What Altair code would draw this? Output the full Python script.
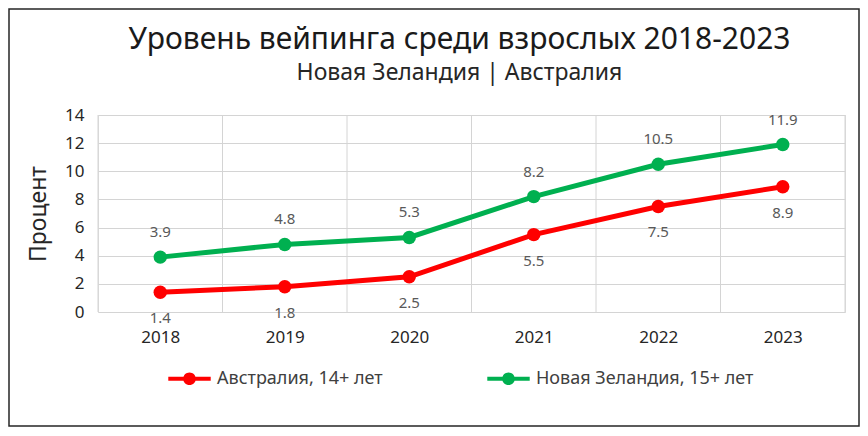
import pandas as pd
import altair as alt

years = [2018, 2019, 2020, 2021, 2022, 2023]
australia = [1.4, 1.8, 2.5, 5.5, 7.5, 8.9]
new_zealand = [3.9, 4.8, 5.3, 8.2, 10.5, 11.9]
series_names = ["Австралия, 14+ лет", "Новая Зеландия, 15+ лет"]
series_colors = ["#ff0000", "#00b050"]
cell_edges = [2017.5, 2018.5, 2019.5, 2020.5, 2021.5, 2022.5, 2023.5]
y_ticks = [0, 2, 4, 6, 8, 10, 12, 14]

df = pd.DataFrame({
    "year": years * 2,
    "value": australia + new_zealand,
    "series": [series_names[0]] * len(years) + [series_names[1]] * len(years),
})
df["label"] = df["value"].map(lambda v: f"{v:.1f}")
edges = pd.DataFrame({"edge": cell_edges})

font = "Noto Sans"
# line + dot legend symbol
legend_path = ("M-1,-0.1 L1,-0.1 L1,0.1 L-1,0.1 Z "
               "M0.3,0 A0.3,0.3 0 1,1 -0.3,0 A0.3,0.3 0 1,1 0.3,0 Z")

x_scale = alt.Scale(domain=[2017.5, 2023.5], nice=False, zero=False)
y_scale = alt.Scale(domain=[0, 14], nice=False)
color_scale = alt.Scale(domain=series_names, range=series_colors)

vgrid = alt.Chart(edges).mark_rule(color="#d4d4d4", strokeWidth=1).encode(
    x=alt.X("edge:Q", scale=x_scale)
)

base = alt.Chart(df).encode(
    x=alt.X("year:Q", scale=x_scale, title=None,
            axis=alt.Axis(values=years, format="d", grid=False, ticks=False,
                          domain=False, labelFontSize=17, labelFont=font,
                          labelColor="#262626", labelPadding=17)),
    y=alt.Y("value:Q", scale=y_scale, title="Процент",
            axis=alt.Axis(values=y_ticks, grid=True, gridColor="#d4d4d4",
                          ticks=False, domain=False, labelFontSize=17,
                          labelFont=font, labelColor="#262626",
                          labelPadding=14, titleFontSize=23,
                          titleFont=font, titleFontWeight="normal",
                          titleColor="#262626", titlePadding=14)),
)

legend = alt.Legend(orient="none", direction="horizontal",
                    legendX=70, legendY=242, padding=0,
                    symbolType=legend_path, symbolSize=1800,
                    symbolStrokeWidth=0, symbolOpacity=1,
                    labelFont=font, labelFontSize=18,
                    labelColor="#404040", labelOffset=6,
                    columnPadding=104, labelLimit=300)

lines = base.mark_line(strokeWidth=5).encode(
    color=alt.Color("series:N", scale=color_scale, title=None, legend=legend)
)

dots = base.mark_circle(size=180, opacity=1).encode(
    color=alt.Color("series:N", scale=color_scale, title=None, legend=legend)
)

labels_nz = base.transform_filter(
    alt.datum.series == series_names[1]
).mark_text(dy=-25, fontSize=15, font=font, color="#595959").encode(
    text="label:N"
)

labels_au = base.transform_filter(
    alt.datum.series == series_names[0]
).mark_text(dy=26, fontSize=15, font=font, color="#595959").encode(
    text="label:N"
)

# outer frame round the whole picture
border = alt.Chart(pd.DataFrame({"k": [0]})).mark_rect(
    fill=None, stroke="#262626", strokeWidth=1.5
).encode(
    x=alt.value(-89), x2=alt.value(761),
    y=alt.value(-106), y2=alt.value(311)
)

chart = alt.layer(
    vgrid, lines, dots, labels_nz, labels_au, border
).properties(
    width=747,
    height=197,
    autosize=alt.AutoSizeParams(type="none"),
    padding={"left": 90, "top": 107, "right": 15, "bottom": 116},
    title=alt.TitleParams(
        text="Уровень вейпинга среди взрослых 2018-2023",
        subtitle="Новая Зеландия | Австралия",
        font=font, fontSize=30, fontWeight="normal", color="#1a1a1a",
        subtitleFont=font, subtitleFontSize=23, subtitleColor="#262626",
        subtitlePadding=7, offset=30, anchor="middle", dx=-12, dy=107,
        frame="group",
    ),
).configure_view(
    fill="#f2f2f2", stroke="#d4d4d4"
).configure(background="white")

chart.save("out.html", embed_options={"renderer": "svg", "actions": False})
